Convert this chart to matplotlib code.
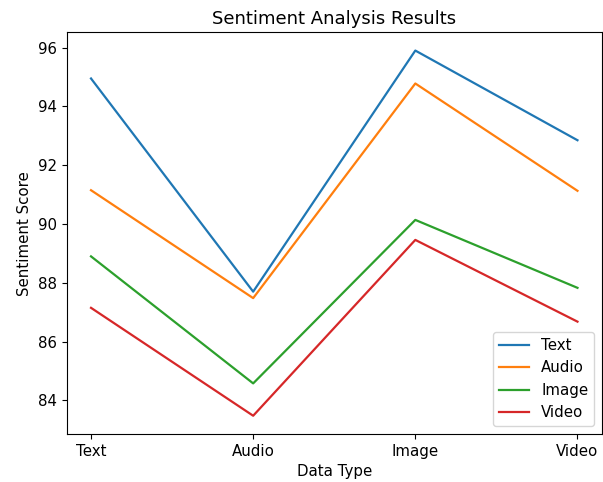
import matplotlib
matplotlib.use("Agg")
import matplotlib.pyplot as plt

data_types = ["Text", "Audio", "Image", "Video"]
text_scores = [94.95, 87.7, 95.9, 92.85]
audio_scores = [91.15, 87.48, 94.78, 91.13]
image_scores = [88.9, 84.58, 90.14, 87.83]
video_scores = [87.15, 83.48, 89.46, 86.68]

plt.rcParams["font.size"] = 10.8
plt.rcParams["lines.linewidth"] = 1.6

fig = plt.figure(figsize=(6.03, 4.82), dpi=100)
ax = fig.add_axes([0.1106, 0.0996, 0.8874, 0.8334])

ax.plot(data_types, text_scores, label="Text")
ax.plot(data_types, audio_scores, label="Audio")
ax.plot(data_types, image_scores, label="Image")
ax.plot(data_types, video_scores, label="Video")

ax.set_title("Sentiment Analysis Results", fontsize=13)
ax.set_xlabel("Data Type")
ax.set_ylabel("Sentiment Score")
ax.legend(loc="lower right")

fig.savefig("out.png", dpi=100)
